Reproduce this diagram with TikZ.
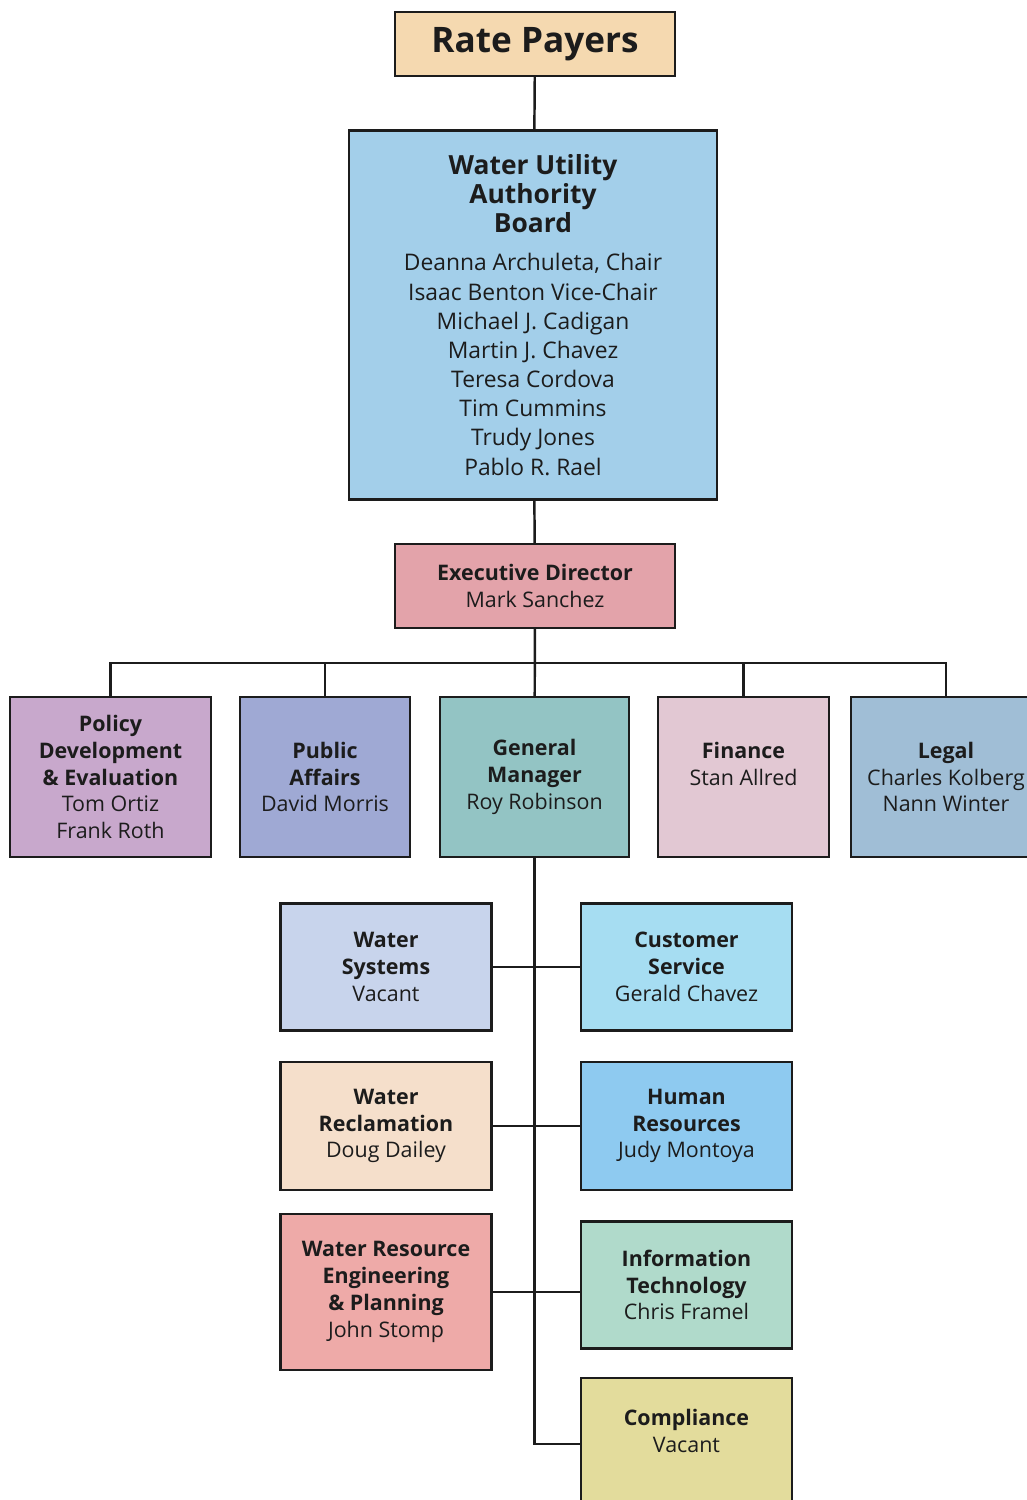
\documentclass[tikz,border=0pt]{standalone}
\usepackage{fontspec}
\setmainfont{Open Sans}
\usepackage{tikz}

\definecolor{ratecol}{HTML}{F5D9B0}
\definecolor{boardcol}{HTML}{A3CFEA}
\definecolor{execcol}{HTML}{E3A3AA}
\definecolor{policycol}{HTML}{C8A8CC}
\definecolor{pubcol}{HTML}{9FA9D4}
\definecolor{gmcol}{HTML}{93C4C4}
\definecolor{fincol}{HTML}{E2C8D3}
\definecolor{legalcol}{HTML}{A0BED6}
\definecolor{wsyscol}{HTML}{C8D4EC}
\definecolor{custcol}{HTML}{A6DDF2}
\definecolor{wreccol}{HTML}{F5DFCB}
\definecolor{hrcol}{HTML}{8ECAF0}
\definecolor{wrecol}{HTML}{EEAAA8}
\definecolor{itcol}{HTML}{B0DACB}
\definecolor{compcol}{HTML}{E3DC9C}
\definecolor{ink}{HTML}{1C1C1C}

\newcommand{\boardhead}{\fontsize{15}{16.8}\selectfont\bfseries}
\newcommand{\boardbody}{\fontsize{13}{16.6}\selectfont\mdseries}

\begin{document}
\begin{tikzpicture}[x=0.02cm, y=-0.02cm,
      box/.style={draw=ink, line width=1.4pt, align=center, inner sep=2pt, text=ink, font=\fontsize{12.2}{15.3}\selectfont},
      dept/.style={box, minimum width=4.22cm, minimum height=2.54cm},
      wire/.style={draw=ink, line width=1.4pt}]
      \useasboundingbox (0,0) rectangle (1027,1500);
      \node[box, fill=ratecol, minimum width=5.6cm, minimum height=1.28cm, font=\fontsize{20}{24}\selectfont\bfseries] (rate) at (535,44) {Rate Payers};
      \node[box, fill=boardcol, minimum width=7.36cm, minimum height=7.38cm, font=\boardbody] (board) at (533,315) {\boardhead Water Utility\\\boardhead Authority\\\boardhead Board\\[5pt]\boardbody Deanna Archuleta, Chair\\\boardbody Isaac Benton Vice-Chair\\\boardbody Michael J. Cadigan\\\boardbody Martin J. Chavez\\\boardbody Teresa Cordova\\\boardbody Tim Cummins\\\boardbody Trudy Jones\\\boardbody Pablo R. Rael};
      \node[box, fill=execcol, minimum width=5.6cm, minimum height=1.68cm] (exec) at (535,586) {\textbf{Executive Director}\\Mark Sanchez};
      % second row
      \node[box, fill=policycol, minimum width=4.02cm, minimum height=3.2cm] (policy) at (110.5,777) {\textbf{Policy}\\\textbf{Development}\\\textbf{\& Evaluation}\\Tom Ortiz\\Frank Roth};
      \node[box, fill=pubcol, minimum width=3.4cm, minimum height=3.2cm] (pub) at (325,777) {\textbf{Public}\\\textbf{Affairs}\\David Morris};
      \node[box, fill=gmcol, minimum width=3.78cm, minimum height=3.2cm] (gm) at (534.5,777) {\textbf{General}\\\textbf{Manager}\\Roy Robinson};
      \node[box, fill=fincol, minimum width=3.42cm, minimum height=3.2cm] (fin) at (743.5,777) {\textbf{Finance}\\Stan Allred\\\mbox{}};
      \node[box, fill=legalcol, minimum width=3.8cm, minimum height=3.2cm] (legal) at (946,777) {\textbf{Legal}\\Charles Kolberg\\Nann Winter};
      % under the general manager
      \node[dept, fill=wsyscol] (wsys) at (386,967) {\textbf{Water}\\\textbf{Systems}\\Vacant};
      \node[dept, fill=wreccol, minimum height=2.56cm] (wrec) at (386,1126) {\textbf{Water}\\\textbf{Reclamation}\\Doug Dailey};
      \node[dept, fill=wrecol, minimum height=3.12cm] (wre) at (386,1292) {\textbf{Water Resource}\\\textbf{Engineering}\\\textbf{\& Planning}\\John Stomp};
      \node[dept, fill=custcol] (cust) at (686.5,967) {\textbf{Customer}\\\textbf{Service}\\Gerald Chavez};
      \node[dept, fill=hrcol, minimum height=2.56cm] (hr) at (686.5,1126) {\textbf{Human}\\\textbf{Resources}\\Judy Montoya};
      \node[dept, fill=itcol] (it) at (686.5,1285) {\textbf{Information}\\\textbf{Technology}\\Chris Framel};
      \node[dept, fill=compcol, minimum height=2.64cm] (comp) at (686.5,1444) {\textbf{Compliance}\\Vacant\\\mbox{}};
      % lines
      \coordinate (bus) at (535,663);
      \draw[wire] (rate)--(board); \draw[wire] (board)--(exec); \draw[wire] (exec)--(gm);
      \draw[wire] (policy.north) |- (bus) -| (legal.north);
      \draw[wire] (pub.north) |- (bus); \draw[wire] (fin.north) |- (bus);
      \draw[wire] (gm.south) |- (comp.west);
      \draw[wire] (wsys)--(cust); \draw[wire] (wrec)--(hr);
      \draw[wire] (wre.east) -- (wre.east -| it.west);
    \end{tikzpicture}
\end{document}
